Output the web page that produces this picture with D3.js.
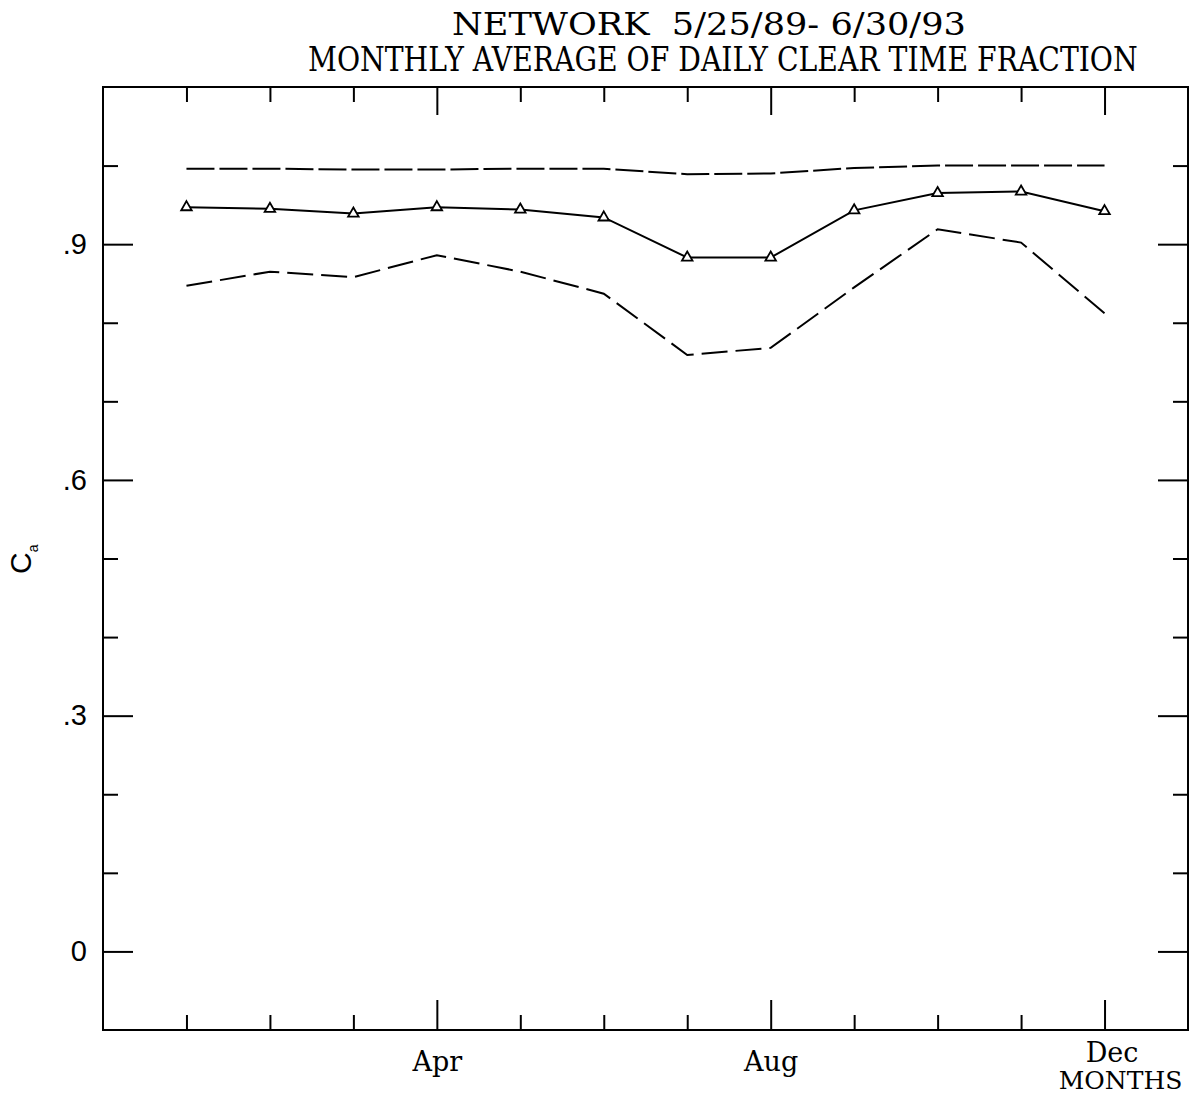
<!DOCTYPE html>
<html>
<head>
<meta charset="utf-8">
<script src="https://cdn.jsdelivr.net/npm/d3@7"></script>
<style>
  html, body { margin: 0; padding: 0; background: #fff; }
  svg { display: block; }
</style>
</head>
<body>
<svg id="chart" width="1191" height="1095"></svg>
<script>
// Months 1..12 along the x axis
const months = [1, 2, 3, 4, 5, 6, 7, 8, 9, 10, 11, 12];
const monthLabels = { 4: "Apr", 8: "Aug", 12: "Dec" };

// Monthly average of the daily clear time fraction (triangles, solid line)
const meanSeries = [0.947, 0.945, 0.939, 0.947, 0.944, 0.934, 0.883, 0.883, 0.943, 0.965, 0.967, 0.942];
// Upper envelope (dashed)
const upperSeries = [0.996, 0.996, 0.995, 0.995, 0.996, 0.996, 0.989, 0.990, 0.997, 1.000, 1.000, 1.000];
// Lower envelope (dashed)
const lowerSeries = [0.847, 0.865, 0.858, 0.886, 0.865, 0.837, 0.759, 0.768, 0.845, 0.919, 0.902, 0.812];

// Y ticks
const yMajorTicks = [0, 0.3, 0.6, 0.9];
const yMinorTicks = [0.1, 0.2, 0.4, 0.5, 0.7, 0.8, 1.0];
const yTickLabels = { 0: "0", 0.3: ".3", 0.6: ".6", 0.9: ".9" };
const xMajorTicks = [4, 8, 12];
const xMinorTicks = [1, 2, 3, 5, 6, 7, 9, 10, 11];

const titleLines = ["NETWORK  5/25/89- 6/30/93", "MONTHLY AVERAGE OF DAILY CLEAR TIME FRACTION"];

const svg = d3.select("#chart");
const plotLeft = 103, plotRight = 1188, plotTop = 87, plotBottom = 1030;

const x = d3.scaleLinear().domain([0, 13]).range([plotLeft, plotRight]);
const y = d3.scaleLinear().domain([-0.1, 1.1]).range([plotBottom, plotTop]);

const serif = "'DejaVu Serif', 'Liberation Serif', serif";
const sans = "'Liberation Sans', Arial, sans-serif";

// Title lines in condensed serif lettering: each line is squeezed horizontally
// to its target width
function condensedTitle(text, x0, baseline, width, size) {
  const t = svg.append("text")
    .attr("font-family", serif).attr("font-size", size)
    .style("white-space", "pre")
    .text(text);
  const natural = t.node().getComputedTextLength();
  t.attr("transform", `translate(${x0},${baseline}) scale(${width / natural},1)`);
}
condensedTitle(titleLines[0], 452, 35, 514, 32);
condensedTitle(titleLines[1], 308, 71, 830, 33);

// Frame
svg.append("rect")
  .attr("x", plotLeft).attr("y", plotTop)
  .attr("width", plotRight - plotLeft).attr("height", plotBottom - plotTop)
  .attr("fill", "none").attr("stroke", "#000").attr("stroke-width", 2);

function styleAxis(g) {
  g.select(".domain").remove();
  g.selectAll(".tick line").attr("stroke", "#000").attr("stroke-width", 2);
}

// Left axis: major (labelled) and minor ticks, pointing inward
svg.append("g").attr("transform", `translate(${plotLeft},0)`)
  .call(d3.axisLeft(y).tickValues(yMajorTicks).tickSize(-30).tickPadding(16)
    .tickFormat(d => yTickLabels[d]))
  .call(styleAxis)
  .call(g => g.selectAll("text").attr("font-family", sans).attr("font-size", 29).attr("fill", "#000"));
svg.append("g").attr("transform", `translate(${plotLeft},0)`)
  .call(d3.axisLeft(y).tickValues(yMinorTicks).tickSize(-15).tickFormat(""))
  .call(styleAxis);

// Right axis ticks, pointing inward
svg.append("g").attr("transform", `translate(${plotRight},0)`)
  .call(d3.axisRight(y).tickValues(yMajorTicks).tickSize(-30).tickFormat(""))
  .call(styleAxis);
svg.append("g").attr("transform", `translate(${plotRight},0)`)
  .call(d3.axisRight(y).tickValues(yMinorTicks).tickSize(-15).tickFormat(""))
  .call(styleAxis);

// Bottom axis with month labels
svg.append("g").attr("transform", `translate(0,${plotBottom})`)
  .call(d3.axisBottom(x).tickValues(xMajorTicks).tickSize(-30).tickPadding(22)
    .tickFormat(d => monthLabels[d]))
  .call(styleAxis)
  .call(g => g.selectAll("text").attr("font-family", serif).attr("font-size", 27).attr("fill", "#000"))
  .call(g => g.selectAll(".tick").filter(d => d === 12).select("text").attr("x", 7).attr("y", 13));
svg.append("g").attr("transform", `translate(0,${plotBottom})`)
  .call(d3.axisBottom(x).tickValues(xMinorTicks).tickSize(-15).tickFormat(""))
  .call(styleAxis);

// Top axis ticks, pointing inward
svg.append("g").attr("transform", `translate(0,${plotTop})`)
  .call(d3.axisTop(x).tickValues(xMajorTicks).tickSize(-28).tickFormat(""))
  .call(styleAxis);
svg.append("g").attr("transform", `translate(0,${plotTop})`)
  .call(d3.axisTop(x).tickValues(xMinorTicks).tickSize(-15).tickFormat(""))
  .call(styleAxis);

// X axis title
svg.append("text")
  .attr("x", x(12) + 16).attr("y", 1089)
  .attr("text-anchor", "middle")
  .attr("font-family", serif).attr("font-size", 25)
  .text("MONTHS");

// Y axis title: C with subscript a
const yTitle = svg.append("text")
  .attr("transform", "translate(31,574) rotate(-90)")
  .attr("font-family", sans).attr("font-size", 30);
yTitle.append("tspan").text("C");
yTitle.append("tspan").attr("font-size", 14).attr("dy", 7).text("a");

// Series lines
const line = d3.line().x((d, i) => x(months[i])).y(d => y(d));

svg.append("path").datum(upperSeries)
  .attr("d", line).attr("fill", "none")
  .attr("stroke", "#000").attr("stroke-width", 2)
  .attr("stroke-dasharray", "28,5");

svg.append("path").datum(lowerSeries)
  .attr("d", line).attr("fill", "none")
  .attr("stroke", "#000").attr("stroke-width", 2)
  .attr("stroke-dasharray", "26,8");

svg.append("path").datum(meanSeries)
  .attr("d", line).attr("fill", "none")
  .attr("stroke", "#000").attr("stroke-width", 2);

// Triangle markers on the monthly mean
const tri = d3.symbol().type(d3.symbolTriangle).size(48);
svg.append("g").selectAll("path")
  .data(meanSeries)
  .join("path")
  .attr("d", tri)
  .attr("transform", (d, i) => `translate(${x(months[i])},${y(d)})`)
  .attr("fill", "#fff").attr("stroke", "#000").attr("stroke-width", 1.8);
</script>
</body>
</html>
